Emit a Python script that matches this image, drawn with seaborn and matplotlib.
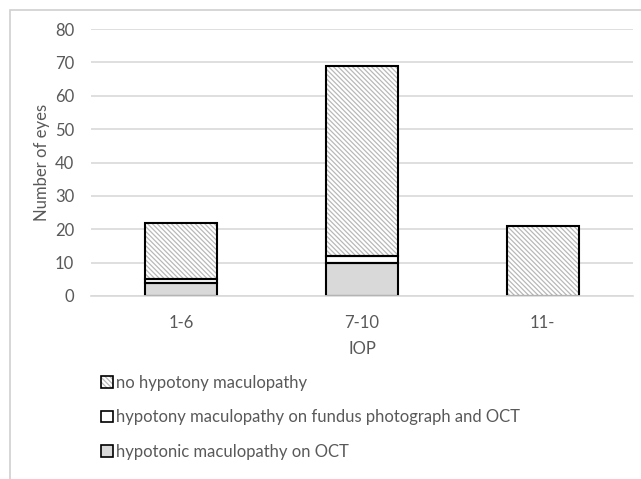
import matplotlib
matplotlib.use('Agg')
import matplotlib.pyplot as plt
from matplotlib.patches import Patch, Rectangle
import seaborn as sns
import numpy as np

# data
iop_groups = ['1-6', '7-10', '11-']
oct_only = [4, 10, 0]
fundus_oct = [1, 2, 0]
no_hypotony = [17, 57, 21]

labels = ['no hypotony maculopathy',
          'hypotony maculopathy on fundus photograph and OCT',
          'hypotonic maculopathy on OCT']

sns.set_theme(style='white')
plt.rcParams['font.family'] = ['Lato', 'DejaVu Sans']
plt.rcParams['hatch.linewidth'] = 0.9

text_col = '#595959'
grid_col = '#d9d9d9'
oct_col = '#d9d9d9'
hatch_col = '#b8b8b8'
hatch = '\\' * 7
bw = 0.40
fs = 12

fig = plt.figure(figsize=(6.41, 4.79), dpi=100)
ax = fig.add_axes([91 / 641, 1 - 296 / 479, (633 - 91) / 641, (296 - 29) / 479])

bottom2 = np.array(oct_only)
bottom3 = bottom2 + np.array(fundus_oct)

# filled layers
sns.barplot(x=iop_groups, y=oct_only, color=oct_col, width=bw,
            linewidth=0, saturation=1, ax=ax)
sns.barplot(x=iop_groups, y=fundus_oct, bottom=bottom2, color='white', width=bw,
            linewidth=0, saturation=1, ax=ax)
n_before = len(ax.patches)
sns.barplot(x=iop_groups, y=no_hypotony, bottom=bottom3, color='white', width=bw,
            linewidth=0, saturation=1, ax=ax)
for p in ax.patches[n_before:]:
    p.set_hatch(hatch)
    p.set_edgecolor(hatch_col)
    p.set_linewidth(0)

# black outlines on each segment
for vals, bots in [(oct_only, None), (fundus_oct, bottom2), (no_hypotony, bottom3)]:
    kw = {} if bots is None else {'bottom': bots}
    sns.barplot(x=iop_groups, y=vals, color='black', fill=False, width=bw,
                linewidth=1.5, ax=ax, **kw)
for p in ax.patches:
    if p.get_height() == 0:
        p.set_visible(False)

ax.set_ylim(0, 80)
ax.set_xlim(-0.5, 2.5)
ax.set_yticks(range(0, 81, 10))
ax.yaxis.grid(True, color=grid_col, linewidth=1.2)
ax.set_axisbelow(True)
for s in ['top', 'right', 'left']:
    ax.spines[s].set_visible(False)
ax.spines['bottom'].set_color(grid_col)
ax.spines['bottom'].set_linewidth(1.2)
ax.tick_params(axis='x', length=0, labelsize=fs, labelcolor=text_col, pad=14)
ax.tick_params(axis='y', length=0, labelsize=fs, labelcolor=text_col, pad=12)
ax.set_xlabel('IOP', fontsize=fs, color=text_col, labelpad=7)
ax.set_ylabel('Number of eyes', fontsize=fs, color=text_col, labelpad=4)

# legend: hatched swatch = gray hatch + black outline overlaid
hatch_swatch = (Patch(facecolor='white', edgecolor=hatch_col, hatch=hatch, linewidth=0),
                Patch(facecolor='none', edgecolor='black', linewidth=1.2))
handles = [
    hatch_swatch,
    Patch(facecolor='white', edgecolor='black', linewidth=1.2),
    Patch(facecolor=oct_col, edgecolor='black', linewidth=1.2),
]
fig.legend(handles, labels, loc='upper left', bbox_to_anchor=(86 / 641, 1 - 360 / 479),
           frameon=False, fontsize=fs, handlelength=0.7, handleheight=0.7,
           handletextpad=0.2, labelspacing=1.1, labelcolor=text_col)

# outer chart frame
fig.patches.append(Rectangle((10 / 641, -0.01), 1.0, 1 - 10 / 479 + 0.01,
                             transform=fig.transFigure, fill=False,
                             edgecolor='#d0d0d0', linewidth=1.2))

fig.savefig('out.png', dpi=100)
